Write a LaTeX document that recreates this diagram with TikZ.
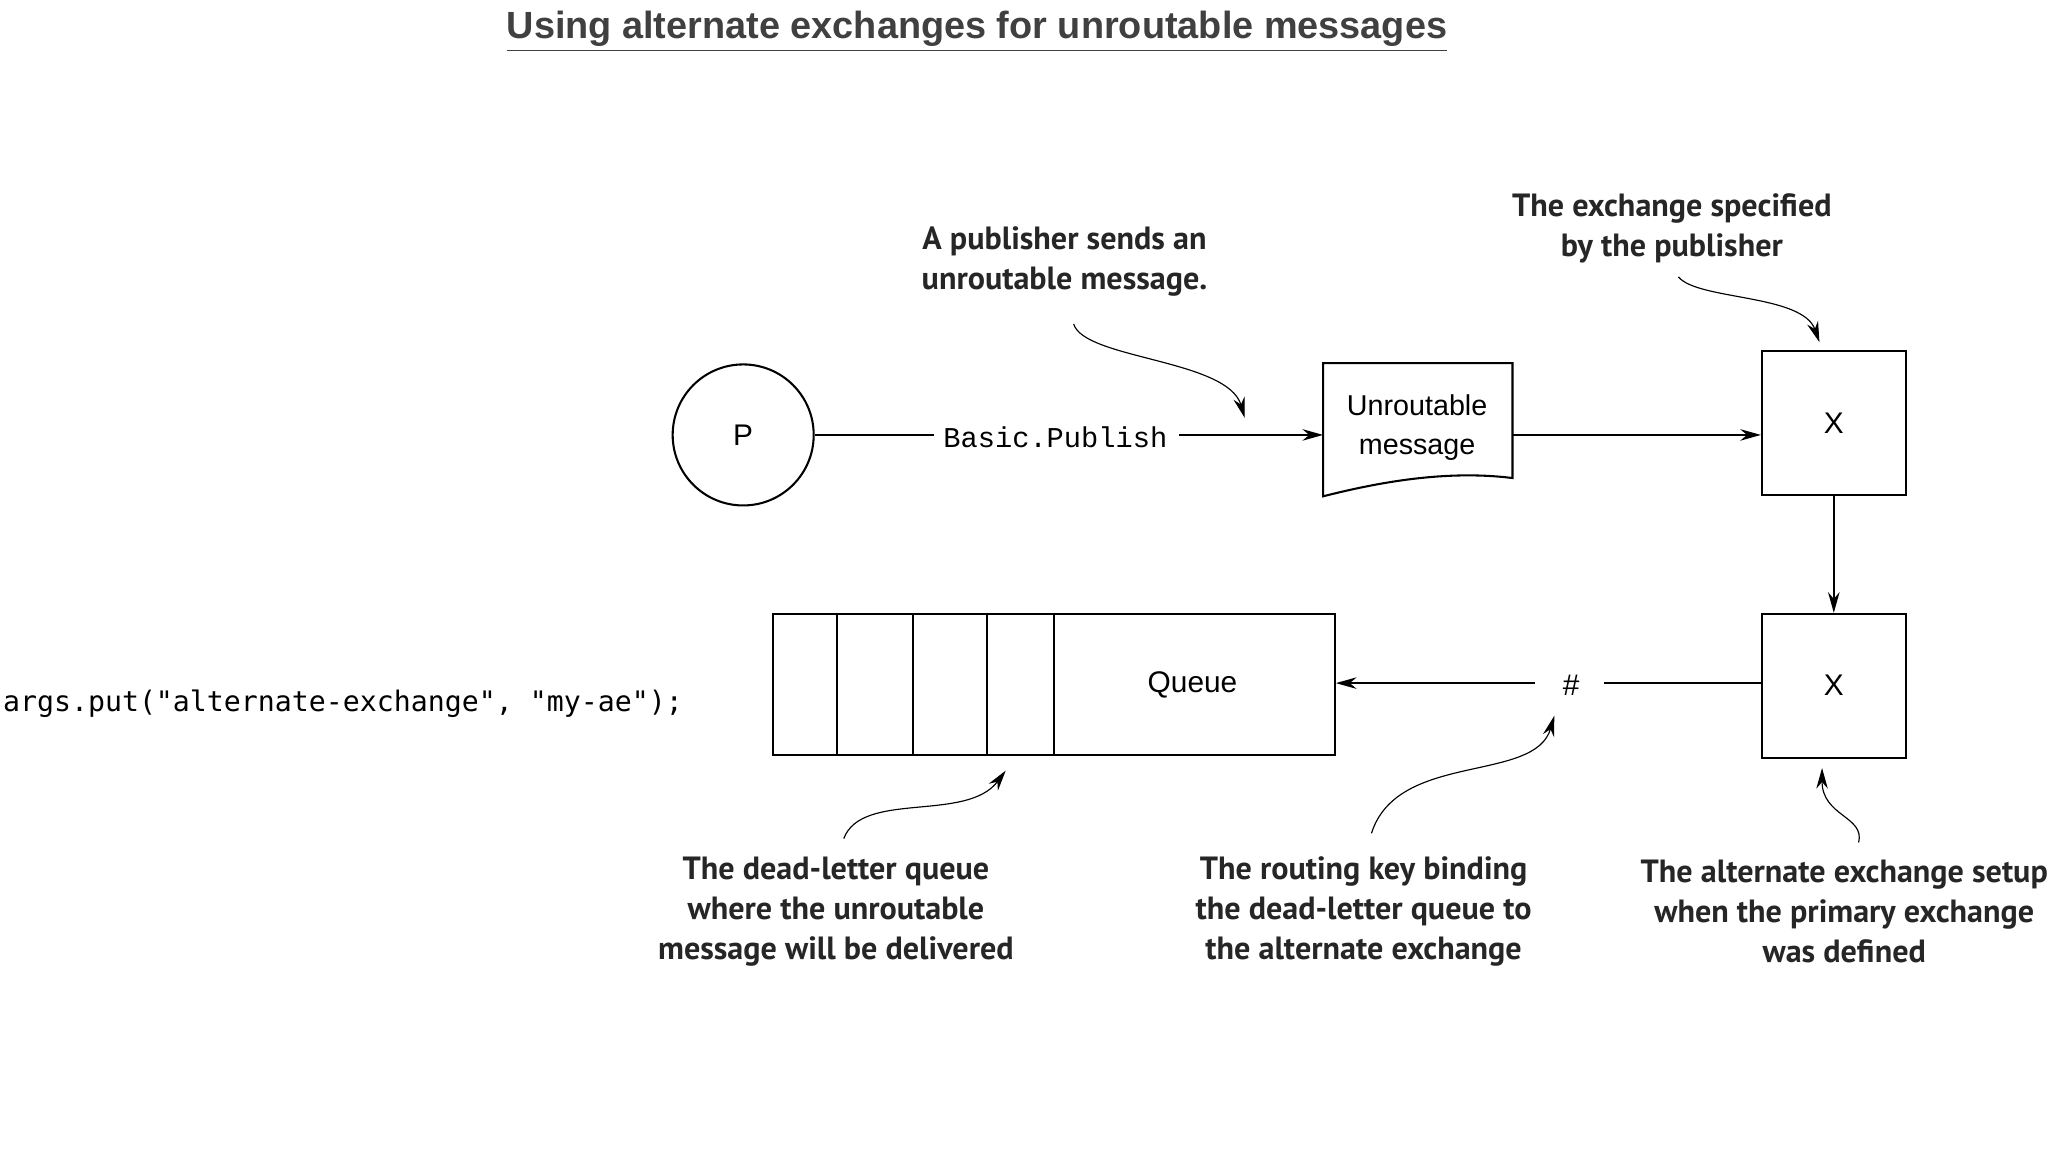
\documentclass[tikz,border=0pt]{standalone}
\usepackage{fontspec}
\setmainfont{Liberation Sans}
\newfontfamily\ann{PT Sans}
\newfontfamily\mono{Liberation Mono}
\newfontfamily\code{DejaVu Sans Mono}
\usetikzlibrary{arrows.meta}
\begin{document}
\begin{tikzpicture}[x=0.02cm,y=-0.02cm,
  box/.style={draw,line width=0.9pt,minimum width=2.2cm,minimum height=2.2cm,font=\fontsize{13}{15}\selectfont},
  arr/.style={-{Stealth[length=9pt,width=5pt]},line width=0.9pt},
  ln/.style={line width=0.9pt},
  note/.style={font=\ann\bfseries\fontsize{14}{17.5}\selectfont,align=center,text=black!85},
  crv/.style={-{Stealth[length=9pt,width=5pt]},line width=0.5pt}]
\useasboundingbox (0,0) rectangle (1568,882);
\clip (0,0) rectangle (1568,882);
\node[font=\bfseries\fontsize{16.5}{18}\selectfont,text=black!75] (title) at (748,24) {\underline{Using alternate exchanges for unroutable messages}};
\node[draw,circle,line width=0.9pt,minimum size=2.16cm,font=\fontsize{13}{15}\selectfont] (P) at (569,333) {P};
\node[font=\mono\fontsize{12.5}{14}\selectfont] (bp) at (808,335) {Basic.Publish};
\coordinate (bpL) at (715,333); \coordinate (bpR) at (903,333);
\draw[ln] (P.east) -- (bpL);
\node[inner sep=0,minimum width=2.9cm,minimum height=2.04cm] (doc) at (1085,329) {};
\draw[ln] (1013,278) -- (1158,278) -- (1158,366) .. controls (1110,360) and (1060,368) .. (1013,380) -- cycle;
\node[font=\fontsize{12.5}{17}\selectfont,align=center] (doctext) at (1085,327) {Unroutable\\message};
\coordinate (docL) at (1013,333); \coordinate (docR) at (1158,333);
\draw[arr] (bpR) -- (docL);
\node[box] (x1) at (1404,324) {X};
\node[box] (x2) at (1404,525) {X};
\draw[arr] (docR) -- (docR -| x1.west);
\draw[arr] (x1) -- (x2);
\node[font=\fontsize{13}{15}\selectfont] (hash) at (1203,525) {\#};
\coordinate (hL) at (1175,523); \coordinate (hR) at (1228,523);
\node[draw,line width=0.9pt,minimum width=8.6cm,minimum height=2.16cm,inner sep=0] (q) at (807,524) {};
\foreach \xx in {641,699,756,807} \draw[ln] (\xx,470) -- (\xx,578);
\node[font=\fontsize{13}{15}\selectfont] (qt) at (913,524) {Queue};
\draw[ln] (hR -| x2.west) -- (hR);
\draw[arr] (hL) -- (hL -| q.east);
\node[anchor=west,font=\code\fontsize{12.3}{16}\selectfont,inner sep=0] (code) at (2,539) {args.put("alternate-exchange", "my-ae");};
\node[note] (n1) at (815,200) {A publisher sends an\\unroutable message.};
\node[note] (n2) at (1280,175) {The exchange specified\\by the publisher};
\node[note] (n3) at (640,698) {The dead-letter queue\\where the unroutable\\message will be delivered};
\node[note] (n4) at (1044,698) {The routing key binding\\the dead-letter queue to\\the alternate exchange};
\node[note] (n5) at (1412,698) {The alternate exchange setup\\when the primary exchange\\was defined};
\coordinate (t1) at (953,320); \coordinate (t2) at (1393,262);
\coordinate (t3) at (770,590); \coordinate (t4) at (1190,548); \coordinate (t5) at (1395,588);
\draw[crv] (822,248) .. controls (830,275) and (940,275) .. (t1);
\draw[crv] (1285,212) .. controls (1300,230) and (1380,225) .. (t2);
\draw[crv] (646,642) .. controls (660,605) and (740,630) .. (t3);
\draw[crv] (1050,638) .. controls (1070,575) and (1175,600) .. (t4);
\draw[crv] (1423,645) .. controls (1428,625) and (1395,625) .. (t5);
\end{tikzpicture}
\end{document}
